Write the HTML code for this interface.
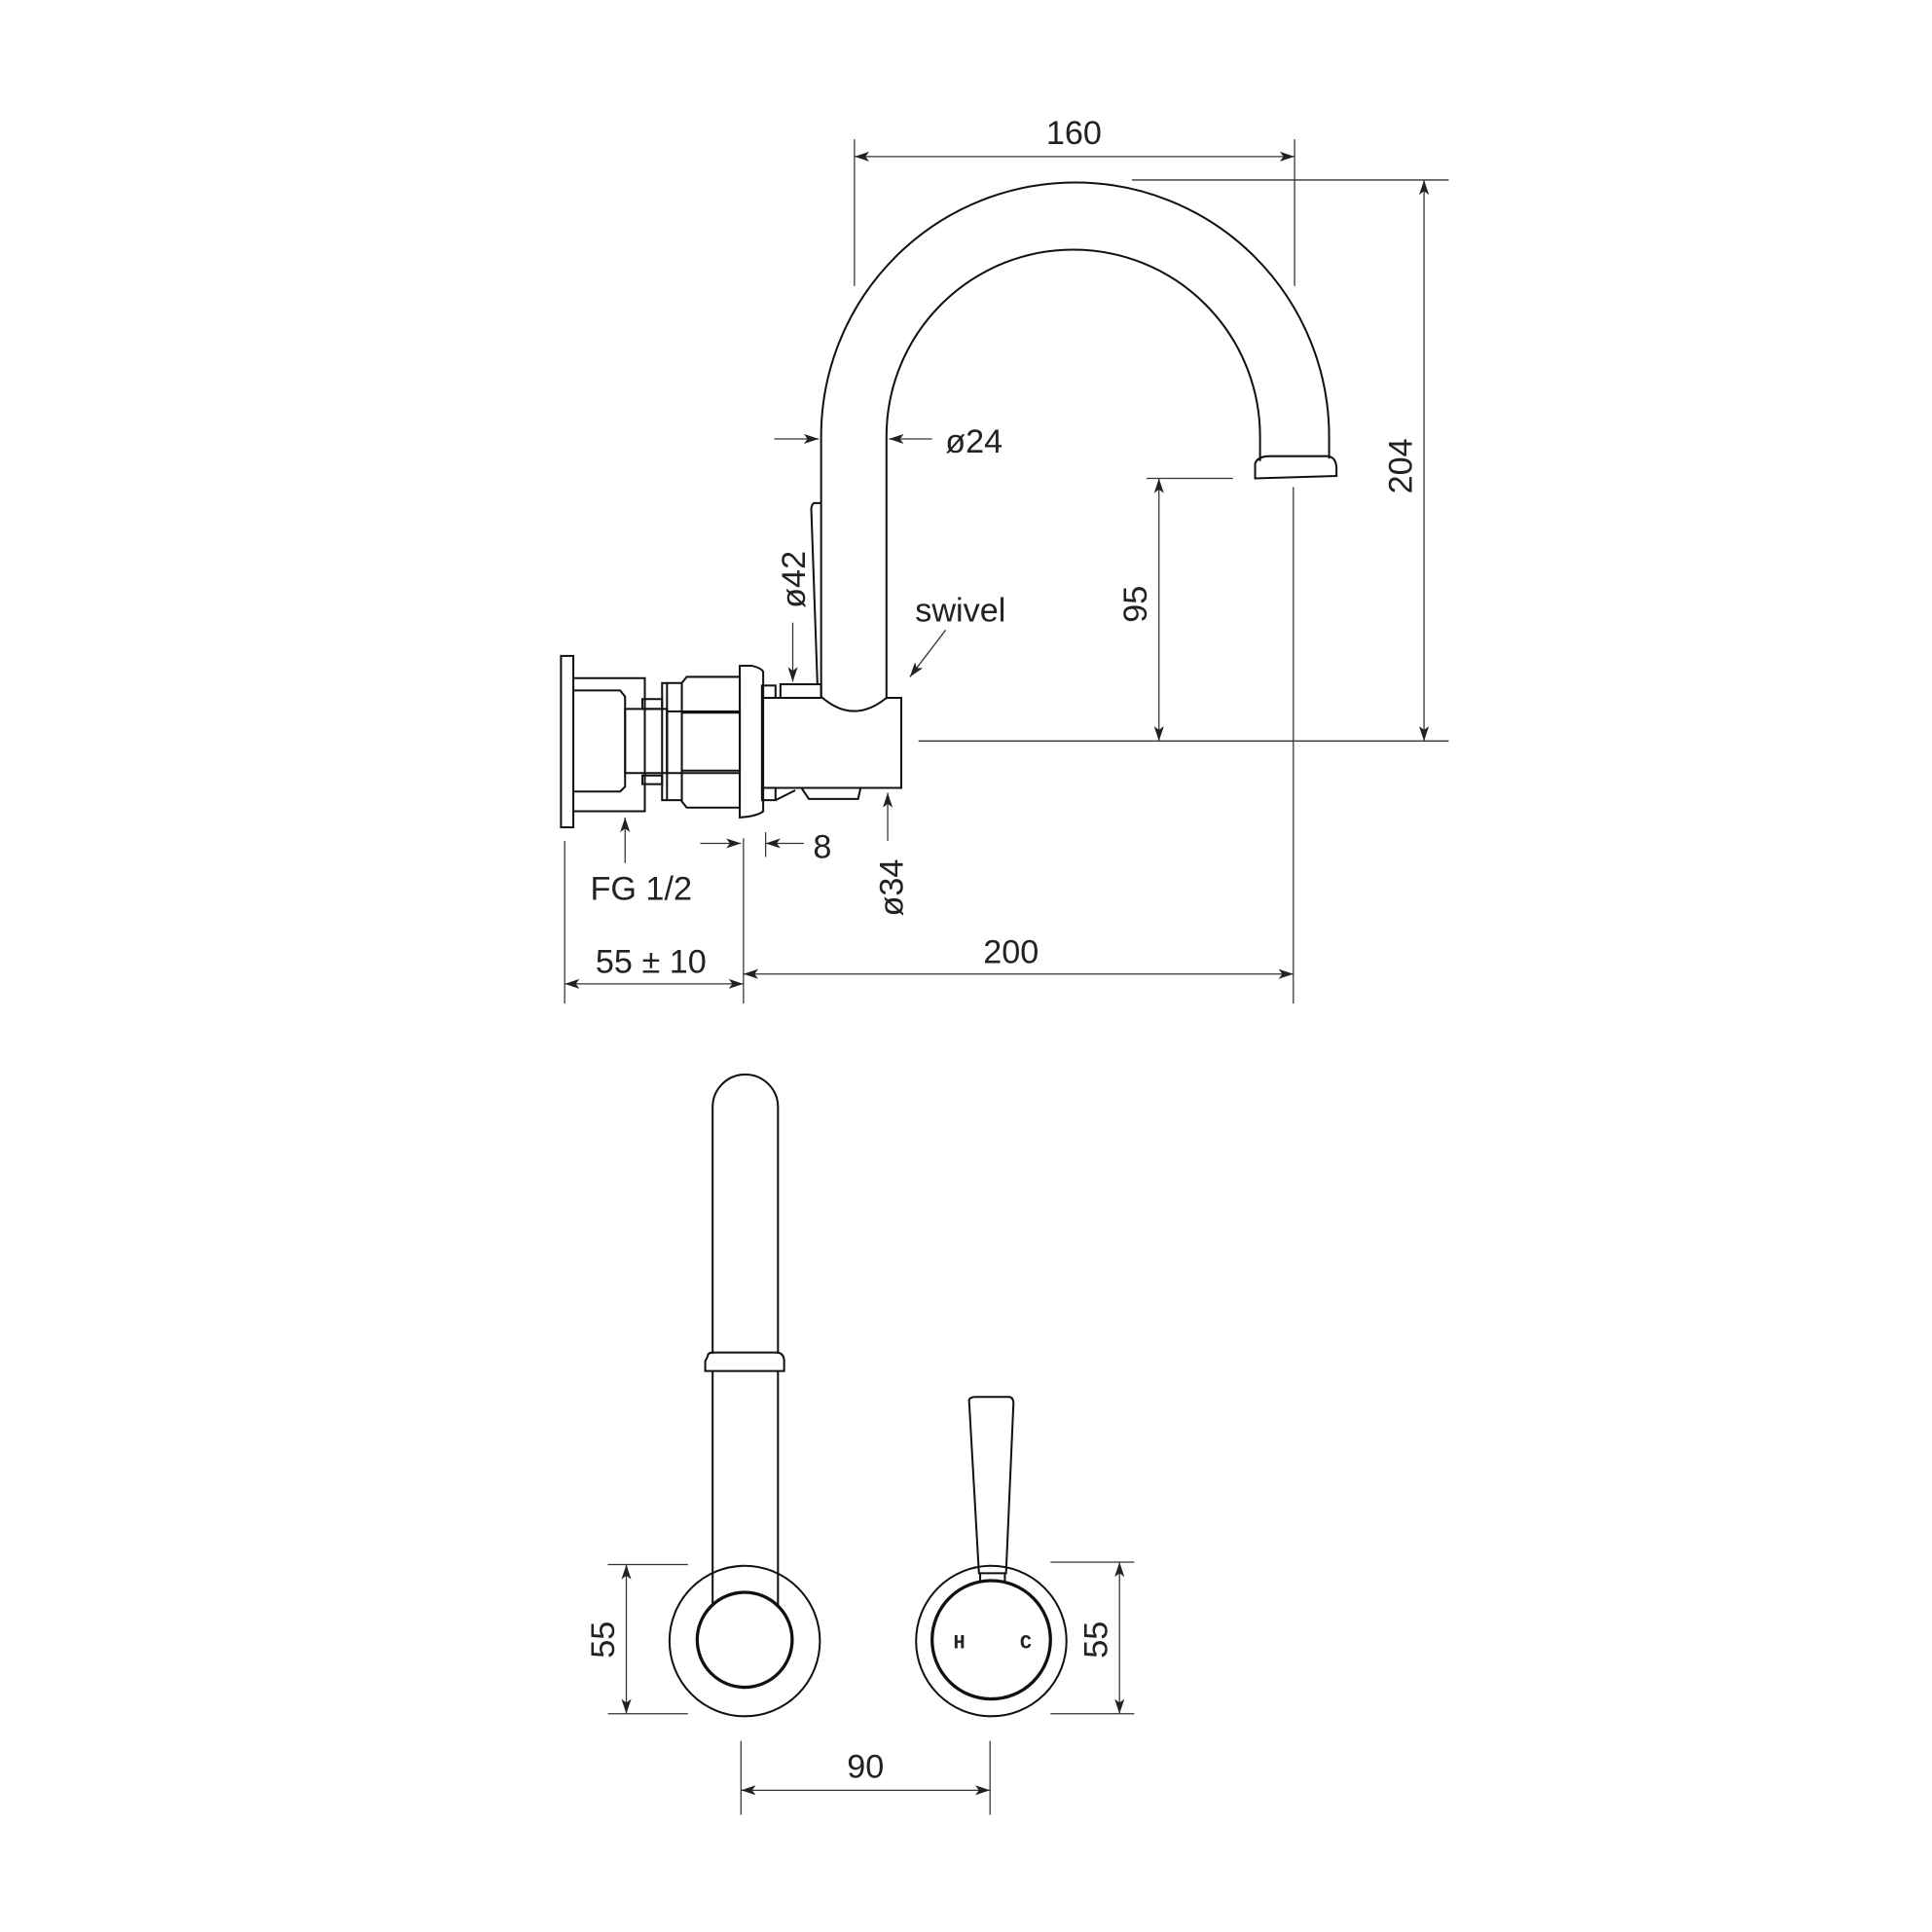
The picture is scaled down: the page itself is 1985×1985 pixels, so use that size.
<!DOCTYPE html>
<html><head><style>html,body{margin:0;padding:0;background:#fff}svg{display:block}</style></head>
<body>
<svg width="1985" height="1985" viewBox="0 0 1567 1567" xmlns="http://www.w3.org/2000/svg">
<defs>
<marker id="a" viewBox="0 0 12 8" refX="12" refY="4" markerWidth="12" markerHeight="8" markerUnits="userSpaceOnUse" orient="auto-start-reverse"><path d="M0,0 L12,4 L0,8 L3,4 Z" fill="#222"/></marker>
</defs>
<g fill="none" stroke="#111" stroke-width="1.6">
<path d="M666,565 L666,354 A206,206 0 0 1 1078,354 L1078,372"/>
<path d="M719,567 L719,354 A151.5,151.5 0 0 1 1022,354 L1022,374"/>
<path d="M1018,376 Q1020,370 1030,370 L1078,370 Q1084,372 1084,380 L1084,386 L1018,388 Z"/>
<path d="M666,408 L660,408 Q658,410 658,413 L663,555 L666,555"/>
<path d="M666,565 Q692,588 719,566 L731,566 L731,639 L618,639 L618,566 L666,566"/>
<rect x="633" y="555" width="33" height="11"/>
<rect x="618" y="556" width="11" height="10"/>
<rect x="618" y="639" width="11" height="10"/>
<path d="M650,639 L656,648 L696,648 L698,639"/>
<path d="M629,649 L645,641"/>
<path d="M600,540 L610,540 Q618,542 619,545 L619,658 Q614,662 600,663 Z"/>
<path d="M557,549 L600,549 L600,655 L557,655 L553,650 L553,554 Z"/>
<line x1="553" y1="578" x2="600" y2="578"/><line x1="553" y1="625" x2="600" y2="625"/>
<rect x="537" y="554" width="16" height="95"/>
<line x1="541" y1="554" x2="541" y2="649"/>
<rect x="541" y="577" width="59" height="50"/>
<rect x="521" y="567" width="16" height="8"/>
<rect x="521" y="629" width="16" height="7"/>
<path d="M465,550 L523,550 L523,658 L465,658"/>
<path d="M465,560 L503,560 L507,565 L507,638 L503,642 L465,642"/>
<rect x="507" y="575" width="34" height="52"/>
<rect x="455" y="532" width="10" height="139"/>
</g>
<g fill="none" stroke="#333" stroke-width="1">
<line x1="693" y1="113" x2="693" y2="232"/><line x1="1050" y1="113" x2="1050" y2="232"/>
<line x1="693" y1="127" x2="1050" y2="127" marker-start="url(#a)" marker-end="url(#a)"/>
<line x1="918" y1="146" x2="1175" y2="146"/><line x1="745" y1="601" x2="1175" y2="601"/>
<line x1="1155" y1="146" x2="1155" y2="601" marker-start="url(#a)" marker-end="url(#a)"/>
<line x1="930" y1="388" x2="1000" y2="388"/>
<line x1="940" y1="388" x2="940" y2="601" marker-start="url(#a)" marker-end="url(#a)"/>
<line x1="1049" y1="395" x2="1049" y2="814"/>
<line x1="603" y1="680" x2="603" y2="814"/><line x1="458" y1="682" x2="458" y2="814"/>
<line x1="603" y1="790" x2="1049" y2="790" marker-start="url(#a)" marker-end="url(#a)"/>
<line x1="458" y1="798" x2="603" y2="798" marker-start="url(#a)" marker-end="url(#a)"/>
<line x1="507" y1="700" x2="507" y2="663" marker-end="url(#a)"/>
<line x1="568" y1="684" x2="601" y2="684" marker-end="url(#a)"/>
<line x1="652" y1="684" x2="621" y2="684" marker-end="url(#a)"/>
<line x1="621" y1="675" x2="621" y2="695"/>
<line x1="720" y1="682" x2="720" y2="643" marker-end="url(#a)"/>
<line x1="628" y1="356" x2="664" y2="356" marker-end="url(#a)"/>
<line x1="756" y1="356" x2="721" y2="356" marker-end="url(#a)"/>
<line x1="643" y1="505" x2="643" y2="553" marker-end="url(#a)"/>
<line x1="767" y1="511" x2="738" y2="549" marker-end="url(#a)"/>
<line x1="493" y1="1269" x2="558" y2="1269"/><line x1="493" y1="1390" x2="558" y2="1390"/>
<line x1="508" y1="1269" x2="508" y2="1390" marker-start="url(#a)" marker-end="url(#a)"/>
<line x1="852" y1="1267" x2="920" y2="1267"/><line x1="852" y1="1390" x2="920" y2="1390"/>
<line x1="908" y1="1267" x2="908" y2="1390" marker-start="url(#a)" marker-end="url(#a)"/>
<line x1="601" y1="1412" x2="601" y2="1472"/><line x1="803" y1="1412" x2="803" y2="1472"/>
<line x1="601" y1="1452" x2="803" y2="1452" marker-start="url(#a)" marker-end="url(#a)"/>
</g>
<g fill="none" stroke="#111" stroke-width="1.6">
<path d="M578,1098 L578,898 A26.5,26.5 0 0 1 631,898 L631,1098"/>
<path d="M574,1100 Q574,1097 578,1097 L631,1097 Q636,1098 636,1104 L636,1112 L572,1112 L572,1104 Z"/>
<line x1="578" y1="1112" x2="578" y2="1302"/><line x1="631" y1="1112" x2="631" y2="1302"/>
<circle cx="604" cy="1331" r="61"/>
<circle cx="604" cy="1330" r="38.5" stroke-width="2.6" fill="#fff"/>
<circle cx="804" cy="1331" r="61"/>
<circle cx="804" cy="1330" r="48" stroke-width="2.6"/>
<path d="M786,1136 Q786,1133 792,1133 L819,1133 Q822,1134 822,1138 L816,1276 L794,1276 Z"/>
<path d="M795,1276 L795,1283 M815,1276 L815,1283"/>
</g>
<g font-family="Liberation Sans, sans-serif" font-size="27" fill="#222" text-anchor="middle">
<text x="871" y="117">160</text>
<text x="820" y="781">200</text>
<text x="528" y="789">55 ± 10</text>
<text x="520" y="730">FG 1/2</text>
<text x="667" y="696">8</text>
<text x="790" y="367">ø24</text>
<text x="779" y="504">swivel</text>
<text x="702" y="1442">90</text>
<text transform="translate(1145,378) rotate(-90)">204</text>
<text transform="translate(930,490) rotate(-90)">95</text>
<text transform="translate(653,470) rotate(-90)">ø42</text>
<text transform="translate(732,720) rotate(-90)">ø34</text>
<text transform="translate(498,1330) rotate(-90)">55</text>
<text transform="translate(898,1330) rotate(-90)">55</text>
<text x="778" y="1337" font-size="16" font-weight="bold" font-family="Liberation Mono, monospace">H</text>
<text x="832" y="1337" font-size="16" font-weight="bold" font-family="Liberation Mono, monospace">C</text>
</g>
</svg>
</body></html>
